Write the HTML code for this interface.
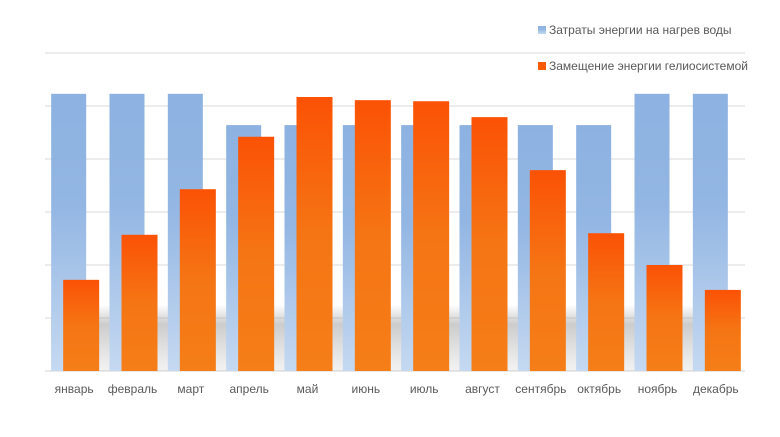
<!DOCTYPE html>
<html><head><meta charset="utf-8"><style>
body{margin:0;background:#fff}
svg{display:block;font-family:"Liberation Sans","DejaVu Sans",sans-serif}
</style></head><body>
<svg width="780" height="437" viewBox="0 0 780 437">
<defs>
<linearGradient id="gb" x1="0" y1="0" x2="0" y2="1"><stop offset="0" stop-color="#8db2e1"/><stop offset="0.4" stop-color="#93b6e3"/><stop offset="1" stop-color="#c5d9f1"/></linearGradient>
<linearGradient id="go" x1="0" y1="0" x2="0" y2="1"><stop offset="0" stop-color="#fb5205"/><stop offset="0.5" stop-color="#f57514"/><stop offset="1" stop-color="#f57e18"/></linearGradient>
<linearGradient id="gs" x1="0" y1="0" x2="0" y2="1"><stop offset="0" stop-color="#999" stop-opacity="0"/><stop offset="0.3" stop-color="#999" stop-opacity="0.5"/><stop offset="1" stop-color="#aaa" stop-opacity="0.15"/></linearGradient>
</defs>
<g id="grid"></g>
<g id="shadow"></g>
<g id="bars"></g>
<g id="labels"></g>
<g>
<rect x="538" y="26" width="8" height="8" fill="url(#gb)"/>
<text x="549" y="34" font-size="12" fill="#595959">Затраты энергии на нагрев воды</text>
<rect x="538" y="62" width="8" height="8" fill="#fb5a05"/>
<text x="549" y="70" font-size="12" fill="#595959">Замещение энергии гелиосистемой</text>
</g>
</svg>
<script>
const categories=["январь","февраль","март","апрель","май","июнь","июль","август","сентябрь","октябрь","ноябрь","декабрь"];
const costs=[5.23,5.23,5.23,4.64,4.64,4.64,4.64,4.64,4.64,4.64,5.23,5.23];
const solar=[1.72,2.57,3.43,4.42,5.17,5.11,5.09,4.79,3.79,2.60,2.0,1.53];
const ticks=[0,1,2,3,4,5,6];
const NS="http://www.w3.org/2000/svg";
const x0=45,x1=745,base=371,unit=53.0;
const bw=(x1-x0)/categories.length;
const y=v=>base-v*unit;
const cx=i=>x0+bw*(i+0.5);
function mk(t,a,p){const e=document.createElementNS(NS,t);for(const k in a)e.setAttribute(k,a[k]);document.getElementById(p).appendChild(e);return e;}
ticks.forEach(t=>{
 const l=mk('line',{x1:x0,x2:x1,y1:y(t),y2:y(t),stroke:t===0?'#d0d0d0':'#d9d9d9','stroke-width':1},'grid');
 
 
});
const s=mk('rect',{x:x0+6,y:y(1.25),width:x1-x0-12,height:base-y(1.25),fill:'url(#gs)'},'shadow');


categories.forEach((c,i)=>{
 const b=mk('rect',{x:cx(i)-23,y:y(costs[i]),width:35,height:base-y(costs[i]),fill:'url(#gb)'},'bars');
 
 
 const o=mk('rect',{x:cx(i)-11,y:y(solar[i]),width:36,height:base-y(solar[i]),fill:'url(#go)'},'bars');
 
 
 const t=mk('text',{x:cx(i),y:393,'font-size':12,fill:'#595959','text-anchor':'middle'},'labels');
 t.textContent=c;
 
 
});
</script>
</body></html>
